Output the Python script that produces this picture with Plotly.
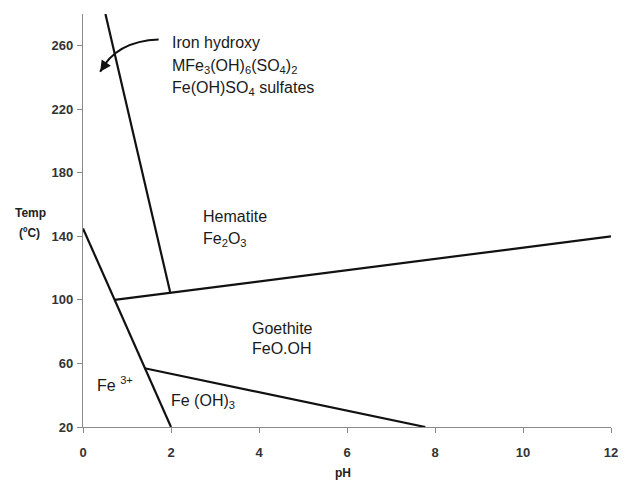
import plotly.graph_objects as go

# Phase boundary lines (pH, Temp °C)
ph_sulfate_hematite = [0.51, 1.98]
t_sulfate_hematite = [280, 105]

ph_hematite_goethite = [0.72, 12.0]
t_hematite_goethite = [100, 140]

ph_fe3_boundary = [0.0, 2.0]
t_fe3_boundary = [145, 20]

ph_goethite_feoh3 = [1.40, 7.78]
t_goethite_feoh3 = [57, 20]

x_ticks = [0, 2, 4, 6, 8, 10, 12]
y_ticks = [20, 60, 100, 140, 180, 220, 260]

# Curved arrow (start, control, tip) in data units
arrow_start = (1.72, 264.0)
arrow_ctrl = (0.75, 263.0)
arrow_tip = (0.39, 243.6)

fig = go.Figure()
line_style = dict(color="#111111", width=2.2)
for xs, ys in [
    (ph_sulfate_hematite, t_sulfate_hematite),
    (ph_hematite_goethite, t_hematite_goethite),
    (ph_fe3_boundary, t_fe3_boundary),
    (ph_goethite_feoh3, t_goethite_feoh3),
]:
    fig.add_trace(go.Scatter(x=xs, y=ys, mode="lines", line=line_style,
                             showlegend=False, hoverinfo="skip"))

fig.add_shape(type="path", xref="x", yref="y",
              path=f"M {arrow_start[0]},{arrow_start[1]} Q {arrow_ctrl[0]},{arrow_ctrl[1]} {arrow_tip[0]},{arrow_tip[1]}",
              line=dict(color="#111111", width=2))

label_font = dict(family="Arial, Liberation Sans", size=16, color="#1a1a1a")
labels = [
    ("Iron hydroxy", 1.966, 261.9),
    ("MFe<sub>3</sub>(OH)<sub>6</sub>(SO<sub>4</sub>)<sub>2</sub>", 1.966, 246.8),
    ("Fe(OH)SO<sub>4</sub> sulfates", 1.966, 232.8),
    ("Hematite", 2.677, 152.5),
    ("Fe<sub>2</sub>O<sub>3</sub>", 2.677, 138.2),
    ("Goethite", 3.80, 82.3),
    ("FeO.OH", 3.80, 69.7),
    ("Fe <sup>3+</sup>", 0.277, 47.2),
    ("Fe (OH)<sub>3</sub>", 1.964, 36.1),
]
annotations = []
for text, x, y in labels:
    annotations.append(dict(text=text, x=x, y=y, xref="x", yref="y",
                            xanchor="left", yanchor="middle", showarrow=False,
                            font=label_font))

# arrowhead at tip
annotations.append(dict(x=arrow_tip[0], y=arrow_tip[1], xref="x", yref="y",
                        ax=6, ay=-9, text="", showarrow=True, arrowhead=2,
                        arrowsize=1.1, arrowwidth=2, arrowcolor="#111111"))

title_font = dict(family="Arial, Liberation Sans", size=12, color="#222222")
annotations += [
    dict(text="<b>pH</b>", x=0.4916, y=-0.1106, xref="paper", yref="paper",
         showarrow=False, xanchor="center", yanchor="middle", font=title_font),
    dict(text="<b>Temp</b>", x=-0.1, y=0.519, xref="paper", yref="paper",
         showarrow=False, xanchor="center", yanchor="middle", font=title_font),
    dict(text="<b>(ºC)</b>", x=-0.102, y=0.469, xref="paper", yref="paper",
         showarrow=False, xanchor="center", yanchor="middle", font=title_font),
]

axis_common = dict(showgrid=False, zeroline=False, showline=True,
                   linecolor="#8a8a8a", linewidth=1.2, ticks="outside",
                   ticklen=5, tickcolor="#8a8a8a", tickwidth=1.2,
                   tickfont=dict(family="Arial, Liberation Sans", size=13,
                                 color="#333333", weight="bold"))

fig.update_layout(
    width=630, height=486,
    margin=dict(l=83, r=14, t=14, b=59),
    plot_bgcolor="white", paper_bgcolor="white",
    xaxis=dict(range=[0, 12], tickvals=x_ticks, ticklabelstandoff=8, **axis_common),
    yaxis=dict(range=[20, 280], tickvals=y_ticks, ticklabelstandoff=1, **axis_common),
    annotations=annotations,
)

fig.write_html("out.html")
